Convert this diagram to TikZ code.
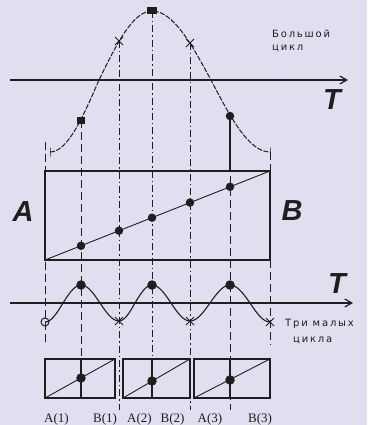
\documentclass[tikz,border=0pt]{standalone}
\usepackage{fontspec}
\setmainfont{Liberation Serif}
\setsansfont{Liberation Sans}
\newfontfamily\cyclefont[LetterSpace=18]{DejaVu Sans}
\usetikzlibrary{arrows.meta,shapes.misc}

\definecolor{bgcol}{RGB}{225,222,239}
\definecolor{ink}{RGB}{30,30,30}

\tikzset{
  axis/.style={draw=ink, line width=1.2pt, -{Straight Barb[length=7pt,width=8pt]}},
  guide/.style={draw=ink, line width=1pt, dash pattern=on 8pt off 4pt},
  guidedd/.style={draw=ink, line width=1pt, dash pattern=on 7pt off 3pt on 1.5pt off 3pt},
  frame/.style={draw=ink, line width=1.1pt},
  bigcurve/.style={draw=ink, line width=1pt, dash pattern=on 5pt off 1.5pt},
  smallwave/.style={draw=ink, line width=1.1pt},
  dot/.style={circle, fill=ink, inner sep=0pt, minimum size=8.5pt},
  sqdot/.style={rectangle, fill=ink, inner sep=0pt, minimum width=8pt, minimum height=7pt},
  starm/.style={cross out, draw=ink, line width=1pt, inner sep=0pt, minimum size=7pt},
  tickm/.style={rectangle, draw=ink, line width=1pt, inner sep=0pt, minimum width=0pt, minimum height=9pt},
  ringm/.style={circle, draw=ink, line width=1pt, inner sep=0pt, minimum size=8pt},
  bigletter/.style={font=\sffamily\bfseries\itshape\fontsize{29}{29}\selectfont, text=ink, inner sep=0pt},
  cyclelbl/.style={font=\cyclefont\fontsize{10}{12.5}\selectfont, text=ink, inner sep=0pt, anchor=north west, align=left},
  endlbl/.style={font=\fontsize{13}{13}\selectfont, text=ink, inner sep=0pt},
}

\begin{document}
\begin{tikzpicture}[x=1pt, y=-1pt]
  \fill[bgcol] (0,0) rectangle (367,425);
  \useasboundingbox (0,0) rectangle (367,425);

  % points on the big cycle
  \coordinate (b0) at (50,152);
  \coordinate (b1) at (81,120);
  \coordinate (b2) at (119,41);
  \coordinate (b3) at (152,11);
  \coordinate (b4) at (190,43);
  \coordinate (b5) at (230,116);
  \coordinate (b6) at (270,152);
  % points on the three small cycles
  \coordinate (s0) at (45,322);
  \coordinate (s1) at (81,285);
  \coordinate (s2) at (119,321);
  \coordinate (s3) at (152,285);
  \coordinate (s4) at (190,321);
  \coordinate (s5) at (230,285);
  \coordinate (s6) at (270,322);
  % levels where the guides stop
  \coordinate (lvlA) at (0,345);
  \coordinate (lvlB) at (0,360);
  \coordinate (lvlC) at (0,410);
  \coordinate (rtop) at (0,171);

  % guides
  \draw[guide] (45,142) -- (45,345);
  \draw[guide] (b1) -- (b1 |- lvlB);
  \draw[guidedd] (b2) -- (b2 |- lvlC);
  \draw[guidedd] (b3) -- (b3 |- lvlB);
  \draw[guidedd] (b4) -- (b4 |- lvlC);
  \draw[guide] (b5) -- (b5 |- lvlC);
  \draw[guide] (b6) -- (b6 |- lvlA);
  \draw[frame] (b5) -- (b5 |- rtop);

  % axes
  \coordinate (ax1s) at (10,80);
  \coordinate (ax1e) at (348,80);
  \coordinate (ax2s) at (10,303);
  \coordinate (ax2e) at (353,303);
  \draw[axis] (ax1s) -- (ax1e);
  \draw[axis] (ax2s) -- (ax2e);

  % curves
  \draw[bigcurve] (b0) cos (99,80) sin (b3) cos (211,80) sin (b6);
  \draw[smallwave] (s0) cos (63,303) sin (s1) cos (100,303) sin (s2)
    cos (135,303) sin (s3) cos (171,303) sin (s4)
    cos (210,303) sin (s5) cos (250,303) sin (s6);

  % big rectangle
  \coordinate (rA) at (45,260);
  \coordinate (rB) at (270,171);
  \draw[frame] (rA) rectangle (rB);
  \draw[draw=ink, line width=0.9pt] (rA) -- (rB);

  % small rectangles
  \coordinate (r1a) at (45,398);  \coordinate (r1b) at (115,359);
  \coordinate (r2a) at (123,398); \coordinate (r2b) at (190,359);
  \coordinate (r3a) at (194,398); \coordinate (r3b) at (270,359);
  \draw[frame] (r1a) rectangle (r1b);
  \draw[frame] (r2a) rectangle (r2b);
  \draw[frame] (r3a) rectangle (r3b);
  \draw[draw=ink, line width=0.9pt] (r1a) -- (r1b);
  \draw[draw=ink, line width=0.9pt] (r2a) -- (r2b);
  \draw[draw=ink, line width=0.9pt] (r3a) -- (r3b);
  \draw[frame] (s1 |- r1b) -- (s1 |- r1a);
  \draw[frame] (s3 |- r2b) -- (s3 |- r2a);
  \draw[frame] (s5 |- r3b) -- (s5 |- r3a);

  % markers
  \node[tickm] (mb0) at (b0) {};
  \node[sqdot] (mb1) at (b1) {};
  \node[starm] (mb2) at (b2) {};
  \node[sqdot, minimum width=10pt] (mb3) at (b3) {};
  \node[starm] (mb4) at (b4) {};
  \node[dot] (mb5) at (b5) {};
  \node[tickm] (mb6) at (b6) {};

  \node[ringm] (ms0) at (s0) {};
  \node[dot, minimum size=9.5pt] (ms1) at (s1) {};
  \node[starm] (ms2) at (s2) {};
  \node[dot, minimum size=9.5pt] (ms3) at (s3) {};
  \node[starm] (ms4) at (s4) {};
  \node[dot, minimum size=9.5pt] (ms5) at (s5) {};
  \node[starm] (ms6) at (s6) {};

  \node[dot] (d1) at (81,245.8) {};
  \node[dot] (d2) at (119,230.7) {};
  \node[dot] (d3) at (152,217.7) {};
  \node[dot] (d4) at (190,202.6) {};
  \node[dot] (d5) at (230,186.8) {};

  \node[dot, minimum size=9.5pt] (e1) at (81,378) {};
  \node[dot, minimum size=9.5pt] (e2) at (152,381) {};
  \node[dot, minimum size=9.5pt] (e3) at (230,380) {};

  % labels
  \node[bigletter] (tone) at (332,100) {T};
  \node[bigletter] (ttwo) at (337,284) {T};
  \node[bigletter] (la) at (23,212) {A};
  \node[bigletter] (lb) at (292,211) {B};
  \node[cyclelbl] (bigc) at (272,30) {Большой\\цикл};
  \node[cyclelbl] (tri) at (285,319) {Три малых};
  \node[cyclelbl] (cyc) at (293,337) {цикла};

  \node[endlbl] (a1) at (56.5,419) {A(1)};
  \node[endlbl] (e1l) at (105,419) {B(1)};
  \node[endlbl] (a2) at (139.5,419) {A(2)};
  \node[endlbl] (e2l) at (172.5,419) {B(2)};
  \node[endlbl] (a3) at (210,419) {A(3)};
  \node[endlbl] (e3l) at (260,419) {B(3)};
\end{tikzpicture}
\end{document}
